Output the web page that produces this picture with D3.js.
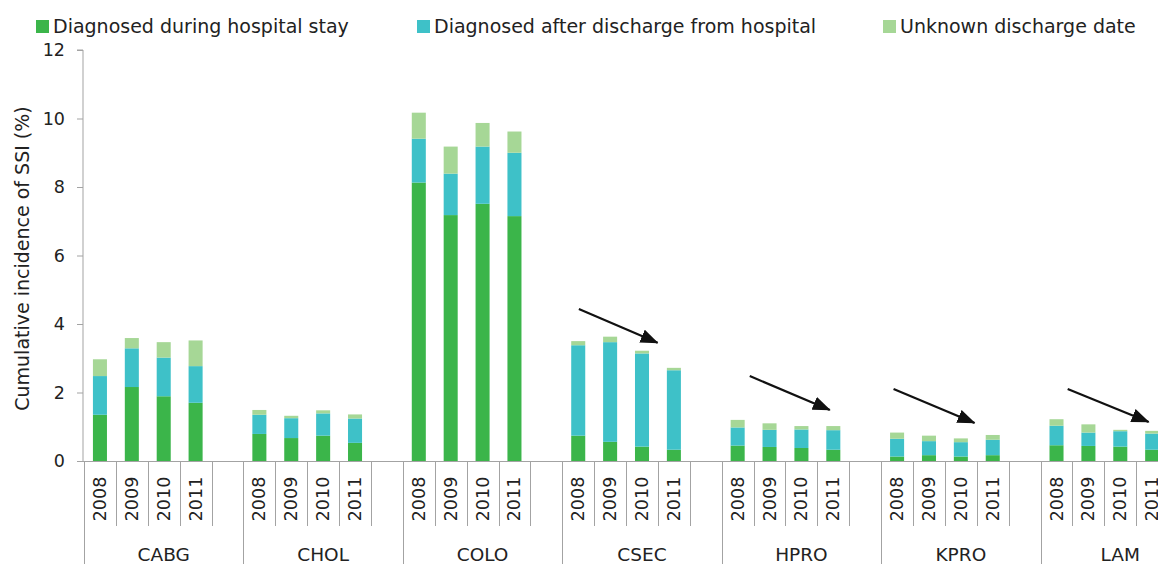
<!DOCTYPE html>
<html>
<head>
<meta charset="utf-8">
<script src="https://cdn.jsdelivr.net/npm/d3@7"></script>
<style>
  html, body { margin: 0; padding: 0; background: #fff; }
  svg { display: block; }
  text { font-family: "DejaVu Sans", Verdana, sans-serif; fill: #222; }
</style>
</head>
<body>
<svg id="chart" width="1158" height="564"></svg>
<script>
// ---- data ----
const groups = ["CABG", "CHOL", "COLO", "CSEC", "HPRO", "KPRO", "LAM"];
const years = ["2008", "2009", "2010", "2011"];
const seriesNames = ["Diagnosed during hospital stay", "Diagnosed after discharge from hospital", "Unknown discharge date"];
// values per group, 4 years each (group order as above)
const duringStay = [
  1.35, 2.16, 1.89, 1.70,
  0.79, 0.67, 0.74, 0.53,
  8.13, 7.18, 7.51, 7.15,
  0.74, 0.56, 0.42, 0.33,
  0.45, 0.41, 0.38, 0.33,
  0.13, 0.17, 0.13, 0.17,
  0.46, 0.44, 0.42, 0.33
];
const afterDischarge = [
  1.13, 1.13, 1.13, 1.07,
  0.56, 0.58, 0.65, 0.71,
  1.28, 1.21, 1.67, 1.85,
  2.64, 2.91, 2.72, 2.32,
  0.53, 0.50, 0.54, 0.57,
  0.52, 0.41, 0.42, 0.45,
  0.57, 0.39, 0.45, 0.47
];
const unknownDate = [
  0.49, 0.30, 0.45, 0.75,
  0.14, 0.07, 0.09, 0.12,
  0.76, 0.79, 0.69, 0.62,
  0.12, 0.16, 0.08, 0.07,
  0.22, 0.19, 0.10, 0.12,
  0.18, 0.16, 0.11, 0.14,
  0.19, 0.24, 0.04, 0.08
];
const yTicks = [0, 2, 4, 6, 8, 10, 12];
// trend arrows (positions in slot units within group, values on y axis)
const arrowGroups = ["CSEC", "HPRO", "KPRO", "LAM"];
const arrowStartSlot = [0.52, 0.88, 0.39, 0.85];
const arrowEndSlot = [2.99, 3.39, 2.93, 3.39];
const arrowStartValue = [4.44, 2.48, 2.10, 2.10];
const arrowEndValue = [3.45, 1.49, 1.11, 1.14];

// ---- layout/style ----
const colors = ["#3bb54a", "#3ec1c8", "#a6d796"];
const axisColor = "#a3a3a3";
const plotLeft = 84, plotRight = 1200, yTop = 50, yBottom = 461;
const slotsPerGroup = 5;

const svg = d3.select("#chart");

// slot keys: 4 years + 1 blank per group
const slotKeys = [];
groups.forEach(g => { years.forEach(y => slotKeys.push(g + "|" + y)); slotKeys.push(g + "|blank"); });

const x = d3.scaleBand().domain(slotKeys).range([plotLeft, plotRight])
  .paddingInner(0.56).paddingOuter(0.28);
const xSlot = d3.scaleLinear().domain([0, slotKeys.length]).range([plotLeft, plotRight]);
const y = d3.scaleLinear().domain([0, 12]).range([yBottom, yTop]);

// records
const records = [];
groups.forEach((g, gi) => years.forEach((yr, yi) => {
  const i = gi * 4 + yi;
  records.push({ key: g + "|" + yr, group: g, year: yr,
    v: [duringStay[i], afterDischarge[i], unknownDate[i]] });
}));
const stack = d3.stack().keys([0, 1, 2]).value((d, k) => d.v[k]);
const stacked = stack(records);

// bars
svg.append("g").selectAll("g").data(stacked).join("g")
  .attr("fill", (d, i) => colors[i])
  .selectAll("rect").data(d => d).join("rect")
  .attr("x", d => x(d.data.key))
  .attr("width", x.bandwidth())
  .attr("y", d => y(d[1]))
  .attr("height", d => y(d[0]) - y(d[1]));

// y axis
const yAxis = svg.append("g").attr("transform", `translate(${plotLeft - 1},0)`)
  .call(d3.axisLeft(y).tickValues(yTicks).tickSize(6).tickPadding(12).tickFormat(d3.format("d")));
yAxis.select(".domain").attr("stroke", axisColor).attr("d", `M-6,${yTop}H0V${yBottom}`);
yAxis.selectAll(".tick line").attr("stroke", axisColor);
yAxis.selectAll(".tick text").attr("font-size", 17.5).attr("fill", "#222")
  .attr("font-family", "DejaVu Sans, Verdana, sans-serif");

// x axis baseline
svg.append("line").attr("x1", plotLeft - 7).attr("x2", plotRight).attr("y1", yBottom + 0.5).attr("y2", yBottom + 0.5)
  .attr("stroke", axisColor).attr("stroke-width", 1.2);

// slot boundary lines
const boundaries = d3.range(0, slotKeys.length + 1);
svg.append("g").selectAll("line").data(boundaries).join("line")
  .attr("x1", i => Math.round(xSlot(i)) + 0.5).attr("x2", i => Math.round(xSlot(i)) + 0.5)
  .attr("y1", yBottom).attr("y2", i => (i % slotsPerGroup === 0) ? 564 : 526)
  .attr("stroke", axisColor).attr("stroke-width", 1);

// year labels
svg.append("g").selectAll("text").data(records).join("text")
  .attr("transform", d => `translate(${x(d.key) + x.bandwidth() / 2},499) rotate(-90)`)
  .attr("text-anchor", "middle").attr("dominant-baseline", "central")
  .attr("font-size", 17.5).text(d => d.year);

// group labels
svg.append("g").selectAll("text").data(groups).join("text")
  .attr("x", (g, gi) => xSlot(gi * slotsPerGroup + slotsPerGroup / 2))
  .attr("y", 561).attr("text-anchor", "middle").attr("font-size", 18.5).text(g => g);

// y axis title
svg.append("text").attr("transform", `translate(22,${(115 + 412) / 2 - 5}) rotate(-90)`)
  .attr("text-anchor", "middle").attr("dominant-baseline", "central")
  .attr("font-size", 19).text("Cumulative incidence of SSI (%)");

// legend
const legendX = [36, 417, 883];
const legend = svg.append("g").selectAll("g").data(seriesNames).join("g")
  .attr("transform", (d, i) => `translate(${legendX[i]},20)`);
legend.append("rect").attr("width", 13).attr("height", 13).attr("fill", (d, i) => colors[i]);
legend.append("text").attr("x", 17).attr("y", 13).attr("font-size", 19).text(d => d);

// arrows
const defs = svg.append("defs");
defs.append("marker").attr("id", "ah").attr("markerUnits", "userSpaceOnUse")
  .attr("markerWidth", 18).attr("markerHeight", 14).attr("refX", 17).attr("refY", 7)
  .attr("orient", "auto")
  .append("path").attr("d", "M0,0 L18,7 L0,14 Z").attr("fill", "#111");
svg.append("g").selectAll("line").data(arrowGroups).join("line")
  .attr("x1", (g, i) => xSlot(groups.indexOf(g) * slotsPerGroup + arrowStartSlot[i]))
  .attr("y1", (g, i) => y(arrowStartValue[i]))
  .attr("x2", (g, i) => xSlot(groups.indexOf(g) * slotsPerGroup + arrowEndSlot[i]))
  .attr("y2", (g, i) => y(arrowEndValue[i]))
  .attr("stroke", "#111").attr("stroke-width", 2.2)
  .attr("marker-end", "url(#ah)");
</script>
</body>
</html>
